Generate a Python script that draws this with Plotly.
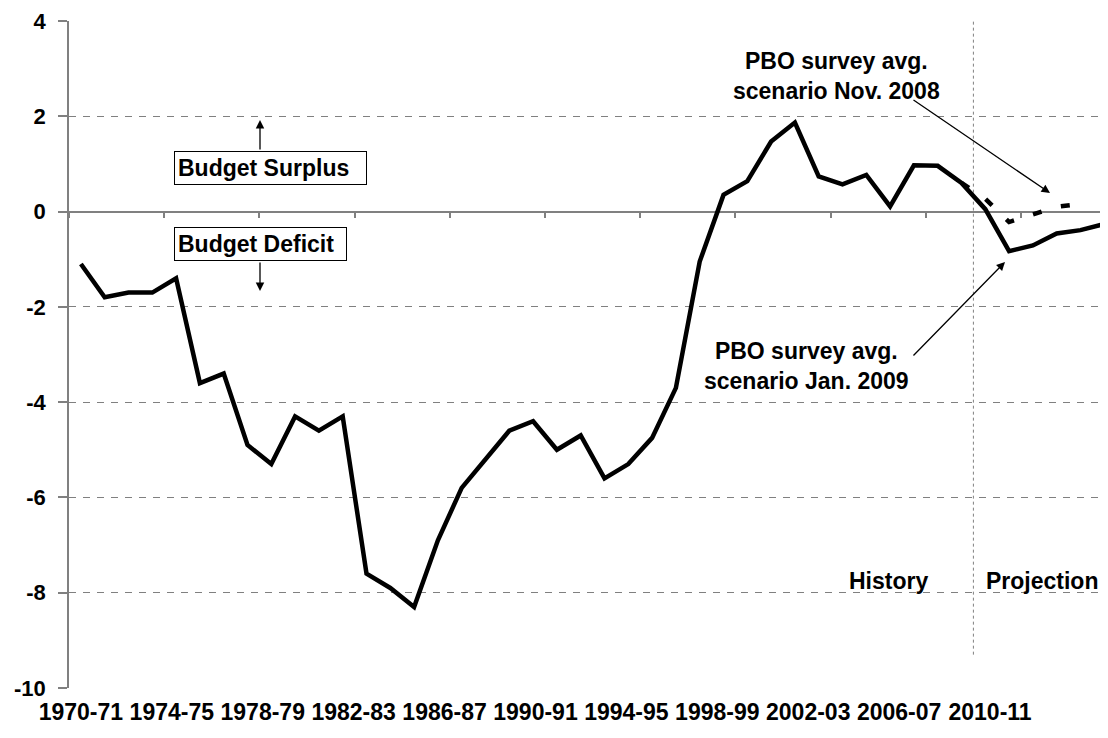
import plotly.graph_objects as go

# ---------------- data ----------------
years = [f"{y}-{str(y + 1)[-2:]}" for y in range(1970, 2014)]  # 1970-71 ... 2013-14

balance_jan2009 = [
    -1.1, -1.8, -1.7, -1.7, -1.4, -3.6, -3.4, -4.9, -5.3, -4.3,
    -4.6, -4.3, -7.6, -7.9, -8.3, -6.9, -5.8, -5.2, -4.6, -4.4,
    -5.0, -4.7, -5.6, -5.3, -4.75, -3.7, -1.05, 0.35, 0.64, 1.47,
    1.87, 0.74, 0.57, 0.77, 0.11, 0.97, 0.96, 0.6, 0.05, -0.83,
    -0.71, -0.46, -0.39, -0.26,
]

balance_nov2008 = [None] * 37 + [0.6, 0.27, -0.22, -0.05, 0.1, 0.16]

x_tick_labels = ["1970-71", "1974-75", "1978-79", "1982-83", "1986-87", "1990-91",
                 "1994-95", "1998-99", "2002-03", "2006-07", "2010-11"]
y_tick_vals = [4, 2, 0, -2, -4, -6, -8, -10]
y_tick_text = ["4", "2", "0", "-2", "-4", "-6", "-8", "-10"]

last_history_year = "2007-08"

# ---------------- layout constants ----------------
OFF = 8                      # page body margin of the browser
W, H = 1108 - OFF, 738 - OFF
L, R, T, B = 69 - OFF, 0, 21 - OFF, 50
PX_PER_CAT = 23.8
x_min = -0.5
x_max = x_min + (W - L - R) / PX_PER_CAT
LABEL_STEP = 3.82   # spacing of the category labels as drawn in the original
FONT = "Liberation Sans, Arial, sans-serif"
GRAY = "#808080"

xs = list(range(len(years)))
split = years.index(last_history_year) + 0.5


def pxx(p):
    return (p - OFF - L) / (W - L - R)


def pxy(p):
    return (H - B - (p - OFF)) / (H - T - B)


fig = go.Figure()

fig.add_trace(go.Scatter(
    x=xs, y=balance_nov2008, mode="lines", xaxis="x", yaxis="y",
    line=dict(color="black", width=4.5, dash="9px,20px"),
    connectgaps=False, hoverinfo="skip", showlegend=False,
))
fig.add_trace(go.Scatter(
    x=xs, y=balance_jan2009, mode="lines", xaxis="x2", yaxis="y",
    line=dict(color="black", width=4.5), hoverinfo="skip", showlegend=False,
))

fig.update_layout(
    width=W, height=H,
    margin=dict(l=L, r=R, t=T, b=B, autoexpand=False),
    plot_bgcolor="white", paper_bgcolor="white",
    font=dict(family=FONT, size=22, color="black", weight="bold"),
    showlegend=False,
    xaxis=dict(
        type="linear", range=[x_min, x_max], automargin=False,
        tickvals=[k * LABEL_STEP for k in range(len(x_tick_labels))],
        ticktext=x_tick_labels,
        tickfont=dict(family=FONT, size=23, color="black", weight="bold"),
        ticks="outside", ticklen=3, tickcolor="rgba(0,0,0,0)",
        showgrid=False, zeroline=False, showline=False,
    ),
    xaxis2=dict(
        type="linear", range=[x_min, x_max], overlaying="x", automargin=False,
        anchor="free", position=(0 - y_tick_vals[-1]) / (y_tick_vals[0] - y_tick_vals[-1]),
        side="bottom",
        tickvals=[-0.5 + 4 * k for k in range(11)],
        showticklabels=False, ticks="outside", ticklen=6, tickwidth=1.5, tickcolor=GRAY,
        showline=True, linecolor=GRAY, linewidth=1.5,
        showgrid=False, zeroline=False, layer="below traces",
    ),
    yaxis=dict(
        range=[-10, 4], tickvals=y_tick_vals, ticktext=y_tick_text, automargin=False,
        tickfont=dict(family=FONT, size=22, color="black", weight="bold"),
        ticks="outside", ticklen=9, tickwidth=1.5, tickcolor=GRAY,
        ticklabelstandoff=8,
        showline=True, linecolor=GRAY, linewidth=1.5,
        showgrid=True, gridcolor=GRAY, gridwidth=1, griddash="7px,7px",
        zeroline=False, layer="below traces",
    ),
)

# history / projection divider
fig.add_shape(type="line", xref="x", yref="y", x0=split, x1=split, y0=-9.3, y1=4,
              line=dict(color=GRAY, width=1, dash="dot"), layer="below")

ann_font = dict(family=FONT, size=23, color="black", weight="bold")
C = dict(xanchor="center", yanchor="middle")

# boxed labels
fig.add_annotation(xref="paper", yref="paper", x=pxx(270.5), y=pxy(168), **C,
                   text="Budget Surplus", showarrow=False, font=ann_font,
                   width=185, align="left",
                   bgcolor="white", bordercolor="black", borderwidth=1, borderpad=3)
fig.add_annotation(xref="paper", yref="paper", x=pxx(260.5), y=pxy(244), **C,
                   text="Budget Deficit", showarrow=False, font=ann_font,
                   width=165, align="left",
                   bgcolor="white", bordercolor="black", borderwidth=1, borderpad=3)

# arrows for the boxes
for (x0, y0, x1, y1) in [(260, 151, 260, 120), (260, 261, 260, 291)]:
    fig.add_annotation(xref="paper", yref="paper", axref="pixel", ayref="pixel",
                       x=pxx(x1), y=pxy(y1), ax=x0 - x1, ay=y0 - y1, text="",
                       showarrow=True, arrowhead=2, arrowsize=1.3, arrowwidth=1.3,
                       arrowcolor="black")

# PBO labels
fig.add_annotation(xref="paper", yref="paper", x=pxx(836), y=pxy(76), **C,
                   text="PBO survey avg.<br>scenario Nov. 2008", showarrow=False,
                   font=ann_font, align="center")
fig.add_annotation(xref="paper", yref="paper", x=pxx(806), y=pxy(366), **C,
                   text="PBO survey avg.<br>scenario Jan. 2009", showarrow=False,
                   font=ann_font, align="center")
for (x0, y0, x1, y1) in [(912, 99, 1050, 193), (912, 357, 1005, 262)]:
    fig.add_annotation(xref="paper", yref="paper", axref="pixel", ayref="pixel",
                       x=pxx(x1), y=pxy(y1), ax=x0 - x1, ay=y0 - y1, text="",
                       showarrow=True, arrowhead=2, arrowsize=1.3, arrowwidth=1.3,
                       arrowcolor="black")

fig.add_annotation(xref="paper", yref="paper", x=pxx(888), y=pxy(581), **C,
                   text="History", showarrow=False, font=ann_font)
fig.add_annotation(xref="paper", yref="paper", x=pxx(1042), y=pxy(581), **C,
                   text="Projection", showarrow=False, font=ann_font)

fig.write_html("out.html")
